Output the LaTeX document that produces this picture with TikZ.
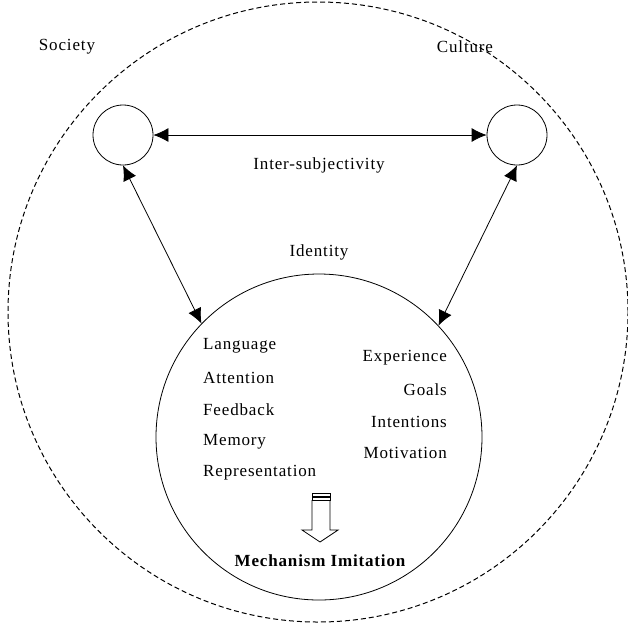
\documentclass[tikz,border=0pt]{standalone}
\usepackage{fontspec}
\setmainfont[LetterSpace=5]{Liberation Serif}
\usetikzlibrary{arrows.meta}
\begin{document}
\begin{tikzpicture}[x=1pt,y=-1pt,
  lbl/.style={font=\fontsize{17}{19}\selectfont, inner sep=0pt},
  small/.style={circle, draw, line width=0.8pt, minimum size=60pt, inner sep=0pt},
  big/.style={circle, draw, line width=0.8pt, minimum size=326pt, inner sep=0pt},
  conn/.style={line width=0.8pt, {Latex[length=15pt,width=14pt]}-{Latex[length=15pt,width=14pt]}}
]
\useasboundingbox (0,0) rectangle (628,625);
\fill[white] (0,0) rectangle (628,625);
\begin{scope}
\clip (0,0) rectangle (628,625);
\node[circle, draw, dash pattern=on 5pt off 3pt, line width=1pt, minimum size=620pt, inner sep=0pt] (outer) at (318,312) {};
\end{scope}
\node[small] (soc) at (123,135) {};
\node[small] (cul) at (517,135) {};
\node[big] (id) at (319,437) {};
\draw[conn] (soc.east) -- (cul.west);
\draw[conn] (soc.south) -- (id.136.7);
\draw[conn] (cul.south) -- (id.43.3);
\node[lbl] (tsoc) at (67,47) {Society};
\node[lbl] (tcul) at (465,47) {Culture};
\node[lbl] (tint) at (319,165) {Inter-subjectivity};
\node[lbl] (tid) at (319,252) {Identity};
\node[lbl, anchor=west] (l1) at (203,346) {Language};
\node[lbl, anchor=west] (l2) at (203,378) {Attention};
\node[lbl, anchor=west] (l3) at (203,410) {Feedback};
\node[lbl, anchor=west] (l4) at (203,442) {Memory};
\node[lbl, anchor=west] (l5) at (203,473) {Representation};
\node[lbl, anchor=east] (r1) at (447,358) {Experience};
\node[lbl, anchor=east] (r2) at (447,390) {Goals};
\node[lbl, anchor=east] (r3) at (447,422) {Intentions};
\node[lbl, anchor=east] (r4) at (447,453) {Motivation};
\node[lbl, font=\fontsize{17}{19}\selectfont\bfseries] (mech) at (320,561) {Mechanism Imitation};
\draw[line width=0.8pt] (312,493) rectangle (330,500);
\draw[line width=1.2pt] (312,497) -- (330,497);
\draw[line width=0.8pt, line join=miter] (312,500) -- (312,530) -- (302,530) -- (320,542) -- (338,530) -- (330,530) -- (330,500);
\end{tikzpicture}
\end{document}
